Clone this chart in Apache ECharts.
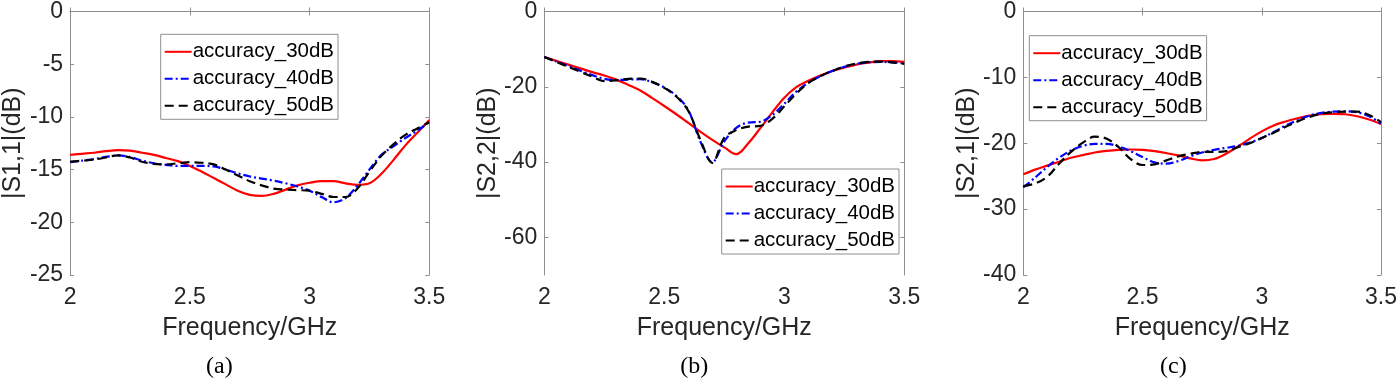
<!DOCTYPE html>
<html lang="en">
  <head>
    <meta charset="UTF-8" />
    <script src="https://cdn.jsdelivr.net/npm/echarts@6/dist/echarts.min.js"></script>
    <title>S-parameters</title>
    <style>
      html, body { margin: 0; padding: 0; background: #fff; }
    </style>
  </head>
  <body>
    <div id="app" style="width: 1400px; height: 381px"></div>

    <script>
      // frequency points (GHz)
      const freq = [2.0, 2.05, 2.1, 2.15, 2.2, 2.25, 2.3, 2.35, 2.4, 2.45, 2.5, 2.55, 2.6, 2.65, 2.7, 2.75,
        2.8, 2.85, 2.9, 2.95, 3.0, 3.05, 3.1, 3.15, 3.2, 3.25, 3.3, 3.35, 3.4, 3.45, 3.5];

      const seriesNames = ["accuracy_30dB", "accuracy_40dB", "accuracy_50dB"];

      // (a) |S1,1|
      const s11_30 = [-13.6, -13.5, -13.4, -13.25, -13.15, -13.2, -13.4, -13.6, -13.9, -14.2, -14.65, -15.2, -15.8, -16.4, -17.0, -17.4,
        -17.5, -17.3, -16.9, -16.5, -16.25, -16.1, -16.1, -16.3, -16.45, -16.3, -15.4, -14.1, -12.7, -11.5, -10.3];
      const s11_40 = [-14.3, -14.15, -14.0, -13.8, -13.65, -13.8, -14.15, -14.4, -14.55, -14.65, -14.65, -14.65, -14.7, -15.0, -15.35, -15.65,
        -15.85, -16.05, -16.3, -16.6, -17.0, -17.6, -18.1, -17.7, -16.5, -15.0, -13.6, -12.8, -12.0, -11.3, -10.5];
      const s11_50 = [-14.25, -14.15, -14.05, -13.85, -13.65, -13.85, -14.25, -14.45, -14.5, -14.4, -14.3, -14.35, -14.5, -15.0, -15.55, -16.1,
        -16.5, -16.8, -16.9, -16.95, -17.0, -17.3, -17.6, -17.6, -16.8, -15.2, -13.7, -12.6, -11.7, -11.1, -10.5];

      // (b) |S2,2|
      const s22_30 = [-12.1, -13.1, -14.1, -15.1, -16.1, -17.0, -18.1, -19.5, -21.0, -23.0, -25.1, -27.3, -29.6, -31.9, -34.1, -36.1,
        -37.9, -35.0, -31.0, -26.8, -22.9, -20.1, -18.4, -17.0, -15.8, -14.9, -14.1, -13.6, -13.2, -13.2, -13.4];
      const s22_40 = [-12.1, -13.3, -14.5, -15.7, -16.9, -17.9, -18.2, -18.1, -18.0, -18.8, -20.2, -22.4, -26.2, -34.5, -40.0, -34.5,
        -30.9, -29.5, -29.3, -27.5, -24.5, -21.3, -18.9, -17.2, -15.8, -14.7, -13.9, -13.5, -13.4, -13.5, -13.8];
      const s22_50 = [-12.1, -13.4, -14.7, -16.0, -17.3, -18.5, -18.3, -17.9, -17.8, -18.7, -20.3, -22.6, -26.4, -34.0, -40.2, -33.5,
        -31.5, -30.6, -30.4, -28.5, -25.2, -21.8, -19.0, -17.2, -15.8, -14.6, -13.8, -13.4, -13.3, -13.5, -13.9];

      // (c) |S2,1|
      const s21_30 = [-24.7, -24.0, -23.4, -22.8, -22.2, -21.8, -21.4, -21.15, -21.0, -20.95, -21.0, -21.2, -21.5, -21.85, -22.3, -22.6,
        -22.4, -21.6, -20.5, -19.3, -18.2, -17.3, -16.7, -16.2, -15.8, -15.6, -15.55, -15.6, -15.9, -16.4, -17.1];
      const s21_40 = [-26.7, -25.2, -23.6, -22.2, -21.1, -20.4, -20.1, -20.1, -20.5, -21.2, -22.1, -22.9, -23.1, -22.7, -22.0, -21.4,
        -21.0, -20.7, -20.4, -19.9, -19.2, -18.3, -17.3, -16.5, -15.8, -15.4, -15.2, -15.15, -15.3, -15.9, -17.0];
      const s21_50 = [-26.5, -26.1, -25.1, -23.1, -21.3, -19.9, -19.0, -19.3, -20.6, -22.4, -23.3, -23.2, -22.6, -22.0, -21.6, -21.3,
        -21.3, -21.2, -20.6, -20.0, -19.2, -18.4, -17.5, -16.7, -16.0, -15.5, -15.3, -15.2, -15.2, -15.7, -16.8];

      // axes per panel
      const xTicks = [2, 2.5, 3, 3.5];
      const yTicksA = [0, -5, -10, -15, -20, -25];
      const yTicksB = [0, -20, -40, -60];
      const yTicksC = [0, -10, -20, -30, -40];
      const yNames = ["|S1,1|(dB)", "|S2,2|(dB)", "|S2,1|(dB)"];
      const captions = ["(a)", "(b)", "(c)"];

      const panels = [
        { left: 69.3, yMin: -25, yTicks: yTicksA, data: [s11_30, s11_40, s11_50], legend: [160.7, 34.3] },
        { left: 544.3, yMin: -70, yTicks: yTicksB, data: [s22_30, s22_40, s22_50], legend: [721.7, 169] },
        { left: 1023.3, yMin: -40, yTicks: yTicksC, data: [s21_30, s21_40, s21_50], legend: [1029.3, 35.7] },
      ];

      const FONT = "'Liberation Sans', Arial, sans-serif";
      const AXIS_GREY = "#8f8f8f";
      const TEXT = "#262626";

      const lineStyles = [
        { color: "#ff0000", width: 2.2, type: "solid" },
        { color: "#0000ff", width: 2.2, type: [8, 3, 2, 3] },
        { color: "#000000", width: 2.2, type: [9, 5] },
      ];

      const grid = [];
      const xAxis = [];
      const yAxis = [];
      const series = [];
      const legend = [];
      const graphic = [];

      panels.forEach(function (p, i) {
        grid.push({ left: p.left, top: 9.5, width: 360, height: 265.5, containLabel: false });

        // bottom x
        xAxis.push({
          type: "value", gridIndex: i, min: 2, max: 3.5, interval: 0.5,
          name: "Frequency/GHz", nameLocation: "middle", nameGap: 41,
          nameTextStyle: { fontFamily: FONT, fontSize: 25, color: TEXT },
          axisLine: { lineStyle: { color: AXIS_GREY, width: 1 } },
          axisTick: { inside: true, length: 4, lineStyle: { color: AXIS_GREY } },
          axisLabel: { margin: 11, fontFamily: FONT, fontSize: 23, color: TEXT,
            customValues: xTicks },
          splitLine: { show: false },
        });
        // top x (box edge)
        xAxis.push({
          type: "value", gridIndex: i, position: "top", min: 2, max: 3.5, interval: 0.5,
          axisLine: { lineStyle: { color: AXIS_GREY, width: 1 } },
          axisTick: { inside: true, length: 4, lineStyle: { color: AXIS_GREY } },
          axisLabel: { show: false },
          splitLine: { show: false },
        });
        // left y
        yAxis.push({
          type: "value", gridIndex: i, min: p.yMin, max: 0,
          name: yNames[i], nameLocation: "middle", nameGap: 43,
          nameTextStyle: { fontFamily: FONT, fontSize: 25, color: TEXT },
          axisLine: { show: true, lineStyle: { color: AXIS_GREY, width: 1 } },
          axisTick: { show: true, inside: true, length: 4, lineStyle: { color: AXIS_GREY },
            customValues: p.yTicks },
          axisLabel: { margin: 7, fontFamily: FONT, fontSize: 23, color: TEXT,
            customValues: p.yTicks },
          splitLine: { show: false },
        });
        // right y (box edge)
        yAxis.push({
          type: "value", gridIndex: i, position: "right", min: p.yMin, max: 0,
          axisLine: { show: true, lineStyle: { color: AXIS_GREY, width: 1 } },
          axisTick: { show: true, inside: true, length: 4, lineStyle: { color: AXIS_GREY },
            customValues: p.yTicks },
          axisLabel: { show: false },
          splitLine: { show: false },
        });

        p.data.forEach(function (vals, k) {
          series.push({
            name: seriesNames[k],
            type: "line",
            xAxisIndex: i * 2,
            yAxisIndex: i * 2,
            symbol: "none",
            smooth: 0.35,
            z: 3 + k,
            lineStyle: lineStyles[k],
            itemStyle: { color: lineStyles[k].color },
            data: freq.map(function (f, j) { return [f, vals[j]]; }),
          });
        });

        legend.push({
          data: seriesNames,
          orient: "vertical",
          left: p.legend[0],
          top: p.legend[1],
          backgroundColor: "#fff",
          borderColor: AXIS_GREY,
          borderWidth: 1,
          borderRadius: 0,
          padding: [7, 4, 3, 3],
          itemGap: 6,
          itemWidth: 27,
          itemHeight: 14,
          itemStyle: { opacity: 0 }, // hide the marker dot, keep the line sample
          selectedMode: false,
          textStyle: { fontFamily: FONT, fontSize: 20.5, lineHeight: 20, color: "#000", padding: [0, 0, 0, -4] },
        });

        graphic.push({
          type: "text",
          x: p.left + 150,
          y: 367,
          style: {
            text: captions[i],
            font: "24px 'Liberation Serif', 'Times New Roman', serif",
            fill: "#000",
            textAlign: "center",
            textVerticalAlign: "middle",
          },
        });
      });

      const chart = echarts.init(document.getElementById("app"), null, { renderer: "canvas" });
      chart.setOption({
        animation: false,
        backgroundColor: "#fff",
        grid: grid,
        xAxis: xAxis,
        yAxis: yAxis,
        legend: legend,
        graphic: graphic,
        series: series,
      });
    </script>
  </body>
</html>
